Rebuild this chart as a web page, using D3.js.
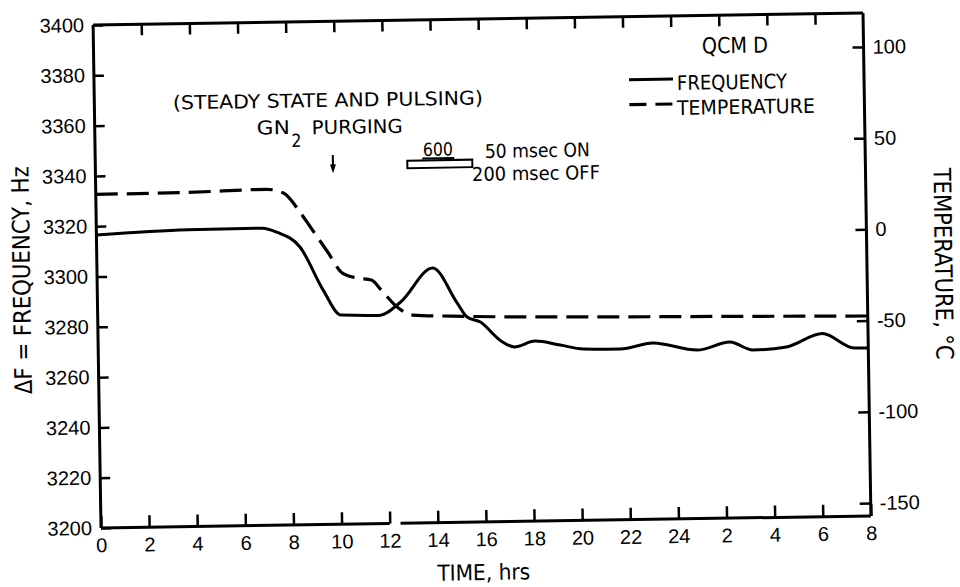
<!DOCTYPE html>
<html><head><meta charset="utf-8">
<script src="https://cdn.jsdelivr.net/npm/d3@7"></script>
<style>body{margin:0;background:#fff}svg{display:block}</style>
</head><body><svg id="c" width="960" height="587"></svg>
<script>
// ---- data ----
const freqHours  = [0, 3.8, 6.9, 7.5, 8.45, 9.4, 10.1, 11.7, 12.6, 13.95, 14.95, 15.35, 15.9, 16.7, 17.3, 18.15, 19.2, 20.15, 21.7, 23.05, 24.9, 26.25, 27.2, 28.6, 30.1, 31.4, 32];
const freqValues = [3316.5, 3318, 3318.2, 3316.5, 3310.5, 3293, 3283.2, 3282.8, 3288, 3301.3, 3287.2, 3281.6, 3279.5, 3272.2, 3269.4, 3271.6, 3269.9, 3268.2, 3267.9, 3270.1, 3267, 3270, 3266.7, 3267.7, 3272.8, 3266.9, 3266.8];
const tempHours  = [0, 3.8, 7.1, 7.8, 8.5, 8.9, 9.6, 10.2, 10.8, 11.4, 11.8, 12.5, 13.1, 14.7, 20, 26, 32];
const tempValues = [25.8, 26.1, 27.1, 24.9, 13.8, 6.0, -7.8, -19.5, -22.3, -23.5, -29.1, -39.1, -43.1, -44, -45.5, -46.5, -47.5];
const timeTicks = [0,2,4,6,8,10,12,14,16,18,20,22,24,26,28,30,32];
const timeTickLabels = ["0","2","4","6","8","10","12","14","16","18","20","22","24","2","4","6","8"];
const freqTicks = [3200,3220,3240,3260,3280,3300,3320,3340,3360,3380,3400];
const tempTicks = [100,50,0,-50,-100,-150];
const axisBreak = [12, 12.45];

// ---- layout ----
const L=97, R=867, T=19, B=522;
const font = "'Liberation Sans', Arial, sans-serif";
const narrow = "'Liberation Sans Narrow','DejaVu Sans Condensed','Liberation Sans',sans-serif";
const svg = d3.select("#c");
svg.append("rect").attr("width",960).attr("height",587).attr("fill","#fff");
const g = svg.append("g").attr("transform","rotate(-0.9,482,270)");

const x = d3.scaleLinear().domain([0,32]).range([L,R]);
const yF = d3.scaleLinear().domain([3200,3400]).range([B,T]);
const yT = d3.scaleLinear().domain([-157.1,118.6]).range([B,T]);

function styleAxis(a){
  a.select(".domain").remove();
  a.selectAll("line").attr("stroke","#000").attr("stroke-width",2.5);
  a.selectAll("text").attr("font-size",20).attr("font-family",font).attr("fill","#000");
}
const aL = g.append("g").attr("transform",`translate(${L},0)`)
  .call(d3.axisLeft(yF).tickValues(freqTicks).tickSize(-10).tickPadding(9).tickFormat(d3.format("d")));
styleAxis(aL);
const aB = g.append("g").attr("transform",`translate(0,${B})`)
  .call(d3.axisBottom(x).tickValues(timeTicks).tickSize(-12).tickPadding(10).tickFormat((d,i)=>timeTickLabels[i]));
styleAxis(aB);
const aT = g.append("g").attr("transform",`translate(0,${T})`)
  .call(d3.axisTop(x).tickValues(timeTicks.slice(1,-1)).tickSize(-11).tickFormat(""));
styleAxis(aT);
const aR = g.append("g").attr("transform",`translate(${R},0)`)
  .call(d3.axisRight(yT).tickValues(tempTicks).tickSize(-11).tickPadding(9).tickFormat(d=>String(d)));
styleAxis(aR);

// frame
const frame = [
  [[x(0),yF(3200)],[x(0),yF(3400)]],
  [[x(0),yF(3400)],[x(32),yF(3400)]],
  [[x(32),yF(3400)],[x(32),yF(3200)]],
  [[x(0),yF(3200)],[x(axisBreak[0]),yF(3200)]],
  [[x(axisBreak[1]),yF(3200)],[x(32),yF(3200)]]
];
g.selectAll(".frame").data(frame).enter().append("path")
  .attr("d",d=>d3.line()(d)).attr("stroke","#000").attr("stroke-width",3).attr("fill","none");

// curves
const line = d3.line().curve(d3.curveMonotoneX);
g.append("path")
  .attr("d", line(freqHours.map((h,i)=>[x(h), yF(freqValues[i])])))
  .attr("fill","none").attr("stroke","#000").attr("stroke-width",3);
g.append("path")
  .attr("d", line(tempHours.map((h,i)=>[x(h), yT(tempValues[i])])))
  .attr("fill","none").attr("stroke","#000").attr("stroke-width",3.2).attr("stroke-dasharray","22,9");

// text helper
function txt(s, xx, yy, size, len, opts={}){
  const t = g.append("text").attr("x",xx).attr("y",yy).attr("font-size",size)
    .attr("font-family",narrow).attr("fill","#000").text(s);
  if(len){ t.attr("textLength",len).attr("lengthAdjust","spacingAndGlyphs"); }
  if(opts.anchor) t.attr("text-anchor",opts.anchor);
  if(opts.rot!==undefined) t.attr("transform",`rotate(${opts.rot},${xx},${yy})`).attr("dominant-baseline","central");
  return t;
}
// axis titles
txt("\u0394F = FREQUENCY, Hz", 22, 273, 24, 228, {anchor:"middle", rot:-90});
txt("TEMPERATURE, \u00B0C", 943, 271, 24, 192, {anchor:"middle", rot:90});
txt("TIME, hrs", 479, 580, 22, 93, {anchor:"middle"});

// annotations
txt("(STEADY STATE AND PULSING)", 175.5, 104.5, 19, 310);
txt("GN", 259, 131, 19, 33);
txt("2", 293.5, 144, 18, 10);
txt("PURGING", 314, 131.5, 19, 91);
g.append("path").attr("d",`M334.6,152.7 L334.6,164`).attr("stroke","#000").attr("stroke-width",2);
g.append("path").attr("d",`M331.6,162 L337.6,162 L334.6,171 Z`).attr("fill","#000");
txt("600", 424.8, 155, 18, 30);
g.append("line").attr("x1",424).attr("x2",456).attr("y1",157.5).attr("y2",157.5).attr("stroke","#000").attr("stroke-width",2);
g.append("rect").attr("x",409).attr("y",159.5).attr("width",65).attr("height",7.5)
  .attr("fill","none").attr("stroke","#000").attr("stroke-width",2);
txt("50 msec ON", 486.7, 158, 19, 105);
txt("200 msec OFF", 473.4, 180.8, 19, 128);

// legend
txt("QCM D", 705.4, 57, 22, 66);
g.append("line").attr("x1",632).attr("x2",676).attr("y1",82).attr("y2",82).attr("stroke","#000").attr("stroke-width",3);
g.append("line").attr("x1",632).attr("x2",676).attr("y1",107).attr("y2",107).attr("stroke","#000").attr("stroke-width",3.2).attr("stroke-dasharray","17,9");
txt("FREQUENCY", 679.8, 93, 20, 110);
txt("TEMPERATURE", 679.4, 118, 20, 138);
</script></body></html>
